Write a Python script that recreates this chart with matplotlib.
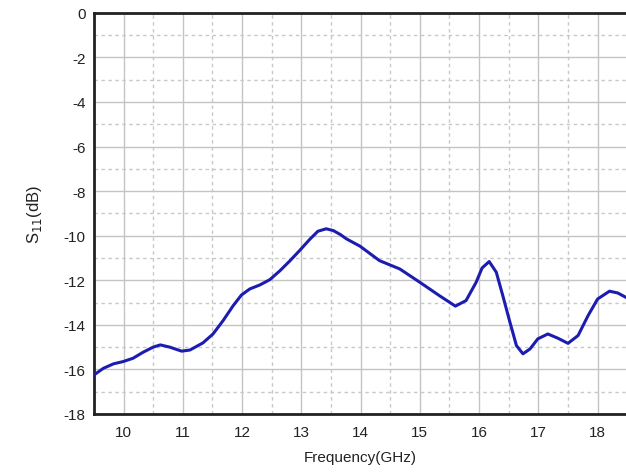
import matplotlib
matplotlib.use("Agg")
import matplotlib.pyplot as plt
from matplotlib.ticker import MultipleLocator

freq = [9.5, 9.66, 9.83, 9.99, 10.16, 10.33, 10.5, 10.62, 10.78, 10.98, 11.12, 11.34,
        11.51, 11.68, 11.85, 11.99, 12.13, 12.3, 12.47, 12.64, 12.81, 12.97, 13.14,
        13.28, 13.42, 13.54, 13.66, 13.76, 13.99, 14.32, 14.66, 15.0, 15.33, 15.6,
        15.78, 15.95, 16.05, 16.17, 16.29, 16.4, 16.52, 16.63, 16.74, 16.86, 16.99,
        17.16, 17.33, 17.5, 17.67, 17.84, 18.0, 18.2, 18.34, 18.5]
s11 = [-16.25, -15.95, -15.75, -15.65, -15.5, -15.23, -15.0, -14.9, -15.0, -15.18, -15.13, -14.81,
       -14.41, -13.81, -13.14, -12.66, -12.39, -12.21, -11.97, -11.57, -11.12, -10.67, -10.17,
       -9.8, -9.69, -9.77, -9.95, -10.14, -10.47, -11.12, -11.49, -12.09, -12.69, -13.16,
       -12.91, -12.09, -11.45, -11.16, -11.64, -12.69, -13.88, -14.93, -15.3, -15.08, -14.63,
       -14.41, -14.6, -14.83, -14.48, -13.58, -12.84, -12.49, -12.57, -12.8]
xticks = [10, 11, 12, 13, 14, 15, 16, 17, 18]
yticks = [0, -2, -4, -6, -8, -10, -12, -14, -16, -18]

plt.rcParams['font.family'] = ['Liberation Sans', 'DejaVu Sans']
plt.rcParams['axes.unicode_minus'] = False
fig = plt.figure(figsize=(6.26, 4.77), dpi=100)
ax = fig.add_axes([0.150, 0.130, 0.852, 0.841])

ax.plot(freq, s11, color='#1c1cb0', lw=2.2, zorder=3,
        solid_joinstyle='round', solid_capstyle='round')

ax.set_xlim(9.5, 18.5)
ax.set_ylim(-18, 0)
ax.set_xticks(xticks)
ax.set_yticks(yticks)
ax.xaxis.set_minor_locator(MultipleLocator(0.5))
ax.yaxis.set_minor_locator(MultipleLocator(1))
ax.grid(which='major', color='#c4c4c4', lw=1.0, ls='-')
ax.grid(which='minor', color='#c8c8c8', lw=1.0, ls=(0, (2.5, 2.5)))
ax.tick_params(which='both', length=0, labelsize=11, colors='#222222', pad=8)
ax.tick_params(axis='y', pad=6)

for s in ['left', 'top', 'bottom']:
    ax.spines[s].set_color('#222222')
    ax.spines[s].set_linewidth(2.0)
ax.spines['right'].set_visible(False)

ax.set_xlabel('Frequency(GHz)', fontsize=11, color='#222222', labelpad=8)
ax.set_ylabel('S$_{11}$(dB)', fontsize=12, color='#222222', labelpad=14)

fig.savefig('out.png', dpi=100)
